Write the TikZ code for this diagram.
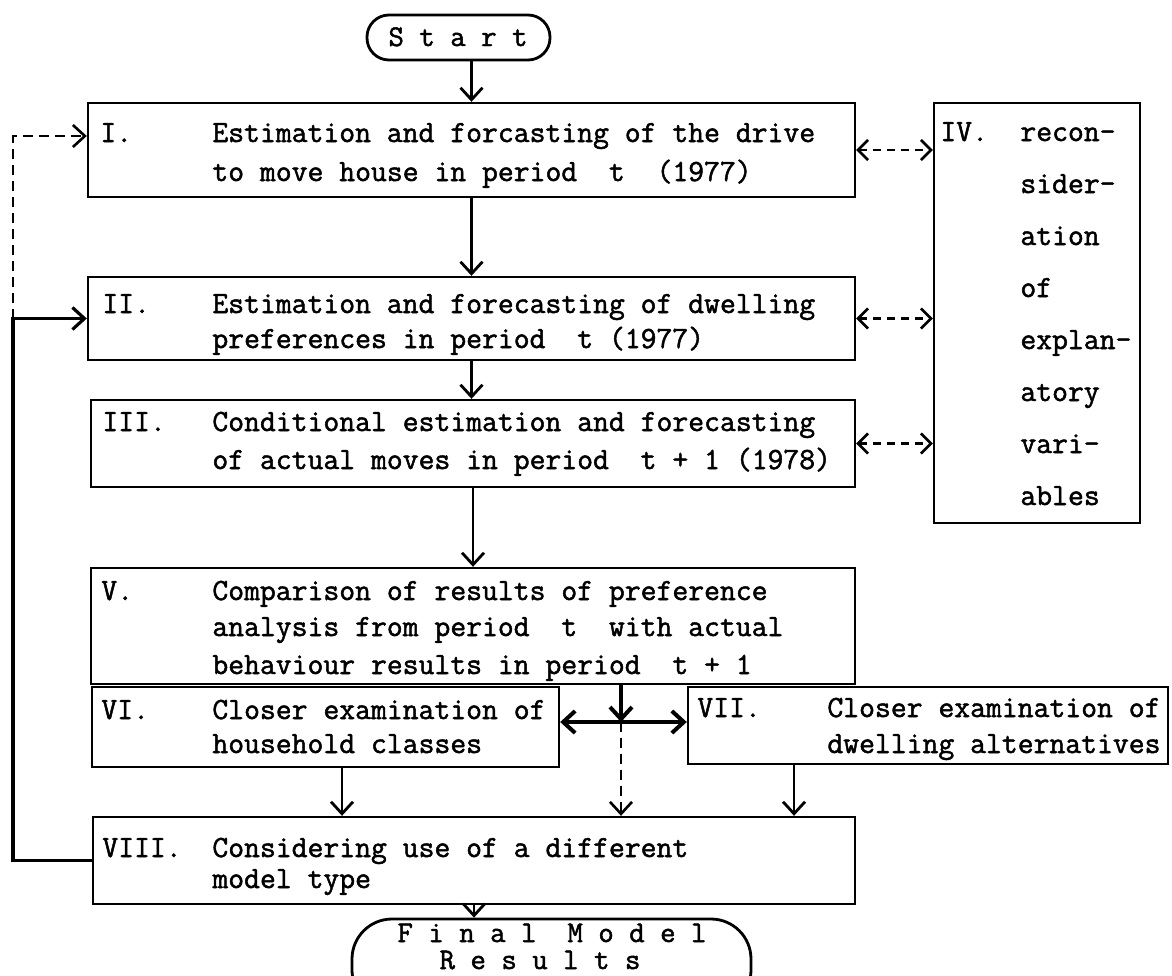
\documentclass[tikz,border=0pt]{standalone}
\usepackage{fontspec}
\usetikzlibrary{arrows.meta,fit,calc}
\newfontfamily\tw{Latin Modern Mono}[FakeBold=1.6]
\begin{document}
\begin{tikzpicture}[x=0.5pt,y=-0.5pt,
  box/.style={draw, line width=1.2pt, inner sep=0pt},
  txt/.style={anchor=base west, inner sep=0pt, font=\tw\fontsize{15.4}{18}\selectfont},
  ctxt/.style={anchor=base, inner sep=0pt, font=\tw\fontsize{15}{18}\selectfont},
  arr/.style={line width=1.4pt, -{Straight Barb[length=6pt,width=11pt]}},
  harr/.style={line width=2pt, -{Straight Barb[length=6pt,width=11pt]}},
  darr/.style={line width=1.3pt, dash pattern=on 5pt off 3pt, -{Straight Barb[length=6pt,width=11pt]}},
  ddarr/.style={line width=1.3pt, dash pattern=on 4pt off 3pt, {Straight Barb[length=5pt,width=10pt]}-{Straight Barb[length=5pt,width=10pt]}}]
\useasboundingbox (0,0) rectangle (1172,975);

% terminals
\node[box, line width=1.4pt, rounded corners=11pt, fit={(367,15) (550,60)}] (S) {};
\node[ctxt] (St) at (458,46) {S t a r t};
\node[box, line width=1.4pt, rounded corners=20pt, fit={(352,919) (751,1010)}] (F) {};
\node[ctxt] (F1) at (552,942) {F i n a l\ \ M o d e l};
\node[ctxt] (F2) at (540,969) {R e s u l t s};

% boxes
\node[box, fit={(88,103) (855,197)}] (I) {};
\node[box, fit={(88,277) (855,360)}] (II) {};
\node[box, fit={(91,400) (855,487)}] (III) {};
\node[box, fit={(91,568) (855,684)}] (V) {};
\node[box, fit={(934,103) (1140,523)}] (IV) {};
\node[box, fit={(92,687) (559,767)}] (VI) {};
\node[box, fit={(688,687) (1168,764)}] (VII) {};
\node[box, fit={(93,817) (855,904)}] (VIII) {};

% texts
\node[txt] (Ia) at (100,142) {I.};
\node[txt] (Ib) at (212,142) {Estimation and forcasting of the drive};
\node[txt] (Ic) at (212,181) {to move house in period\ \ t\ \ (1977)};
\node[txt] (IIa) at (102,313) {II.};
\node[txt] (IIb) at (212,313) {Estimation and forecasting of dwelling};
\node[txt] (IIc) at (212,348) {preferences in period\ \ t (1977)};
\node[txt] (IIIa) at (102,431) {III.};
\node[txt] (IIIb) at (212,431) {Conditional estimation and forecasting};
\node[txt] (IIIc) at (212,469) {of actual moves in period\ \ t + 1 (1978)};
\node[txt] (Va) at (101,600) {V.};
\node[txt] (Vb) at (212,600) {Comparison of results of preference};
\node[txt] (Vc) at (212,636) {analysis from period\ \ t\ \ with actual};
\node[txt] (Vd) at (212,674) {behaviour results in period\ \ t + 1};
\node[txt] (VIa) at (101,719) {VI.};
\node[txt] (VIb) at (212,719) {Closer examination of};
\node[txt] (VIc) at (212,753) {household classes};
\node[txt] (VIIa) at (697,717) {VII.};
\node[txt] (VIIb) at (827,717) {Closer examination of};
\node[txt] (VIIc) at (827,753) {dwelling alternatives};
\node[txt] (VIIIa) at (102,857) {VIII.};
\node[txt] (VIIIb) at (212,857) {Considering use of a different};
\node[txt] (VIIIc) at (212,888) {model type};
\node[txt] (IVa) at (940,141) {IV.};
\node[txt] (IV1) at (1020,141) {recon-};
\node[txt] (IV2) at (1020,193) {sider-};
\node[txt] (IV3) at (1020,245) {ation};
\node[txt] (IV4) at (1020,297) {of};
\node[txt] (IV5) at (1020,349) {explan-};
\node[txt] (IV6) at (1020,401) {atory};
\node[txt] (IV7) at (1020,453) {vari-};
\node[txt] (IV8) at (1020,505) {ables};

% main flow
\draw[arr] (I.north |- S.south) -- (I.north);
\draw[arr] (I.south) -- (II.north);
\draw[arr] (II.south) -- (II.south |- III.north);
\draw[arr] (III.south) -- (III.south |- V.north);

% junction
\coordinate (J) at (621,722);
\draw[harr] (V.south -| J) -- (J);
\draw[harr] (J) -- (VI.east |- J);
\draw[harr] (J) -- (VII.west |- J);
\draw[darr] (J) -- (VIII.north -| J);

\coordinate (a6) at (342,0);
\coordinate (a7) at (794,0);
\coordinate (a8) at (474,0);
\draw[arr] (VI.south -| a6) -- (VIII.north -| a6);
\draw[arr] (VII.south -| a7) -- (VIII.north -| a7);
\draw[arr] (VIII.south -| a8) -- (F.north -| a8);

% feedback loops
\coordinate (L) at (13,0);
\draw[arr, line width=1.6pt] (VIII.west) -| (L |- II.west) -- (II.west);
\draw[darr] (L |- II.west) |- ($(I.west)+(0,-14)$);

% links with IV
\draw[ddarr] (I.east) -- (I.east -| IV.west);
\draw[ddarr] (II.east) -- (II.east -| IV.west);
\draw[ddarr] (III.east) -- (III.east -| IV.west);
\end{tikzpicture}
\end{document}
